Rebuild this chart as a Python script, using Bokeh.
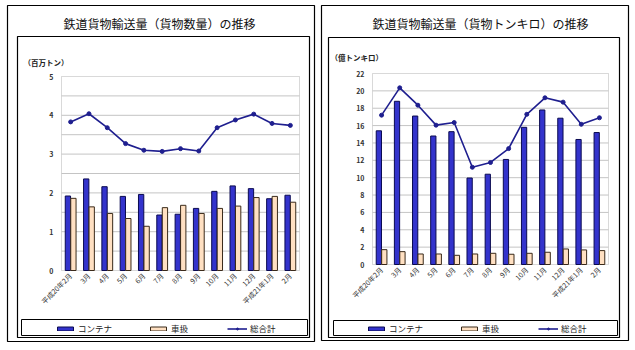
from bokeh.plotting import figure
from bokeh.models import (Range1d, FixedTicker, Legend, LegendItem, LinearAxis,
                          BoxAnnotation, Label, ColumnDataSource)
from bokeh.transform import dodge
from bokeh.layouts import row
from bokeh.embed import file_html
from bokeh.resources import INLINE
import math

# ---------------- data ----------------
months = ["平成20年2月", "3月", "4月", "5月", "6月", "7月", "8月", "9月",
          "10月", "11月", "12月", "平成21年1月", "2月"]

# 貨物数量 (百万トン)
vol_container = [1.92, 2.36, 2.16, 1.91, 1.96, 1.43, 1.45, 1.60, 2.04, 2.18, 2.11, 1.85, 1.94]
vol_wagon = [1.86, 1.64, 1.47, 1.34, 1.14, 1.62, 1.68, 1.47, 1.60, 1.66, 1.88, 1.91, 1.76]
vol_total = [3.83, 4.04, 3.68, 3.27, 3.10, 3.07, 3.14, 3.08, 3.68, 3.88, 4.03, 3.79, 3.74]

# 貨物トンキロ (億トンキロ)
tkm_container = [15.4, 18.8, 17.1, 14.8, 15.3, 9.96, 10.4, 12.1, 15.8, 17.8, 16.85, 14.4, 15.2]
tkm_wagon = [1.71, 1.48, 1.21, 1.21, 1.06, 1.21, 1.29, 1.18, 1.29, 1.41, 1.79, 1.68, 1.60]
tkm_total = [17.2, 20.35, 18.35, 16.05, 16.35, 11.2, 11.75, 13.35, 17.3, 19.2, 18.7, 16.15, 16.9]

vol_ticks = [0, 1, 2, 3, 4, 5]
vol_grid = [0.5, 1, 1.5, 2, 2.5, 3, 3.5, 4, 4.5]
tkm_ticks = [0, 2, 4, 6, 8, 10, 12, 14, 16, 18, 20, 22]
tkm_grid = [2, 4, 6, 8, 10, 12, 14, 16, 18, 20]

FONT = "Noto Sans CJK JP"
BLUE = "#3333cc"
BLUE_EDGE = "#0a0a50"
TAN = "#ffe0c2"
TAN_EDGE = "#3a2a1a"
LINE = "#1f1f8f"
H = 350


def span(lo, hi, px_lo, px_hi, total):
    """data range so that [lo, hi] lands on pixels [px_lo, px_hi] of a canvas of size total"""
    k = (hi - lo) / (px_hi - px_lo)
    return Range1d(lo - px_lo * k, hi + (total - px_hi) * k)


def panel(title, unit, container, wagon, total, ymax, ticks, grid,
          width, fl, fr, ft, fb, outer, inner, legbox, title_x, unit_x, unit_y, leg_x):
    n = len(months)
    pos = list(range(n))
    src = ColumnDataSource(dict(x=pos, c=container, w=wagon, t=total))
    p = figure(width=width, height=H, output_backend="svg", toolbar_location=None,
               x_axis_type=None, y_axis_type=None,
               x_range=span(-0.5, n - 0.5, fl, fr, width),
               y_range=span(0, ymax, H - fb, H - ft, H),
               min_border=0, min_border_left=0, min_border_right=0,
               min_border_top=0, min_border_bottom=0,
               background_fill_color="white", border_fill_color="white")
    p.title.visible = False
    p.outline_line_color = None
    p.xgrid.visible = False
    p.ygrid.visible = False

    # gridlines inside the plot area
    p.segment(x0=[-0.5] * len(grid), x1=[n - 0.5] * len(grid), y0=grid, y1=grid,
              line_color="#c4c4c4", line_width=1)

    # axes fixed inside the canvas
    yax = LinearAxis(fixed_location=-0.5, ticker=FixedTicker(ticks=ticks))
    xax = LinearAxis(fixed_location=0, ticker=FixedTicker(ticks=pos),
                     major_label_overrides={i: m for i, m in enumerate(months)})
    for ax in (xax, yax):
        ax.axis_line_color = None
        ax.major_tick_line_color = None
        ax.minor_tick_line_color = None
        ax.major_tick_in = 0
        ax.major_tick_out = 0
        ax.major_label_text_font = FONT
        ax.major_label_text_color = "#333333"
    yax.major_label_text_font_size = "7px"
    yax.major_label_text_font_style = "bold"
    yax.major_label_standoff = 8
    xax.major_label_text_font_size = "7px"
    xax.major_label_orientation = math.pi / 4
    xax.major_label_standoff = 4
    p.add_layout(yax, "left")
    p.add_layout(xax, "below")

    # bars and line
    r_c = p.vbar(x=dodge("x", -0.15), top="c", width=0.29, source=src,
                 fill_color=BLUE, line_color=BLUE_EDGE, line_width=1)
    r_w = p.vbar(x=dodge("x", 0.15), top="w", width=0.29, source=src,
                 fill_color=TAN, line_color=TAN_EDGE, line_width=1)
    r_l = p.line(x="x", y="t", source=src, line_color=LINE, line_width=1.6)
    r_s = p.scatter(x="x", y="t", source=src, size=4, fill_color=LINE, line_color=LINE)

    # plot-area frame
    p.add_layout(BoxAnnotation(left=-0.5, right=n - 0.5, bottom=0, top=ymax,
                               fill_color=None, fill_alpha=0,
                               line_color="#808080", line_width=1, level="underlay"))

    # decorative boxes (screen px, y measured from bottom)
    def box(l, r, t, b, lw=1):
        p.add_layout(BoxAnnotation(left=l, right=r, top=H - t, bottom=H - b,
                                   left_units="screen", right_units="screen",
                                   top_units="screen", bottom_units="screen",
                                   fill_color=None, fill_alpha=0, line_color="black",
                                   line_width=lw, line_alpha=1))
    box(*outer, lw=1.2)
    box(*inner, lw=1.2)
    box(*legbox, lw=1)

    # title and unit label
    p.add_layout(Label(x=title_x, y=H - 23, x_units="screen", y_units="screen",
                       text=title, text_font=FONT, text_font_size="12px",
                       text_align="center", text_baseline="middle",
                       text_color="#111111"))
    p.add_layout(Label(x=unit_x, y=H - unit_y, x_units="screen", y_units="screen",
                       text=unit, text_font=FONT, text_font_size="7.5px",
                       text_font_style="bold", text_align="left",
                       text_baseline="middle", text_color="#222222"))

    legend = Legend(items=[LegendItem(label="コンテナ", renderers=[r_c]),
                           LegendItem(label="車扱", renderers=[r_w]),
                           LegendItem(label="総合計", renderers=[r_l, r_s])],
                    orientation="horizontal",
                    location=(leg_x - 2, H - legbox[3] + 1),
                    glyph_width=20, glyph_height=5, label_standoff=3, spacing=36,
                    padding=2, margin=0, border_line_color=None,
                    background_fill_alpha=0, label_text_font=FONT,
                    label_text_font_size="8.5px", label_text_color="#222222",
                    label_height=12)
    p.add_layout(legend, "center")
    return p


left = panel("鉄道貨物輸送量（貨物数量）の推移", "（百万トン）",
             vol_container, vol_wagon, vol_total, 5, vol_ticks, vol_grid,
             width=318, fl=61, fr=299, ft=76, fb=270,
             outer=(7, 314, 5, 341), inner=(17, 309, 36, 337), legbox=(21, 307, 319, 335),
             title_x=159, unit_x=23, unit_y=62, leg_x=57)

right = panel("鉄道貨物輸送量（貨物トンキロ）の推移", "（億トンキロ）",
              tkm_container, tkm_wagon, tkm_total, 22, tkm_ticks, tkm_grid,
              width=317, fl=54, fr=290, ft=73, fb=264,
              outer=(3, 310, 5, 340), inner=(10, 301, 37, 337), legbox=(15, 299, 320, 335),
              title_x=162, unit_x=12, unit_y=57, leg_x=50)

layout = row(left, right, spacing=0)
open("out.html", "w").write(file_html(layout, INLINE))
